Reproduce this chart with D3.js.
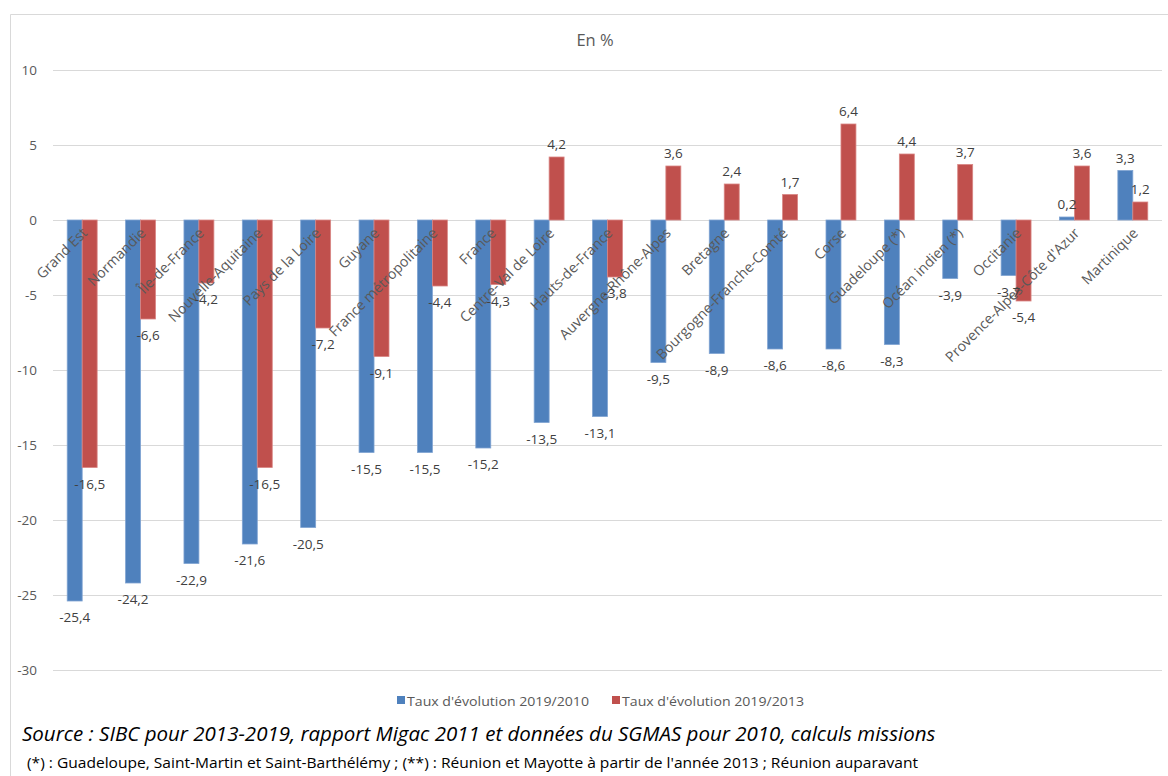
<!DOCTYPE html>
<html>
<head>
<meta charset="utf-8">
<script src="https://cdn.jsdelivr.net/npm/d3@7"></script>
<style>
  html, body { margin: 0; padding: 0; background: #fff; }
  svg { display: block; font-family: "Open Sans", "Noto Sans", sans-serif; }
</style>
</head>
<body>
<svg id="chart" width="1168" height="776"></svg>
<script>
const categories = [
  "Grand Est", "Normandie", "Île-de-France", "Nouvelle-Aquitaine", "Pays de la Loire",
  "Guyane", "France métropolitaine", "France", "Centre-Val de Loire", "Hauts-de-France",
  "Auvergne-Rhône-Alpes", "Bretagne", "Bourgogne-Franche-Comté", "Corse", "Guadeloupe (*)",
  "Océan indien (*)", "Occitanie", "Provence-Alpes-Côte d'Azur", "Martinique"
];
const taux2010 = [-25.4, -24.2, -22.9, -21.6, -20.5, -15.5, -15.5, -15.2, -13.5, -13.1,
  -9.5, -8.9, -8.6, -8.6, -8.3, -3.9, -3.7, 0.2, 3.3];
const taux2013 = [-16.5, -6.6, -4.2, -16.5, -7.2, -9.1, -4.4, -4.3, 4.2, -3.8,
  3.6, 2.4, 1.7, 6.4, 4.4, 3.7, -5.4, 3.6, 1.2];
const seriesNames = ["Taux d'évolution 2019/2010", "Taux d'évolution 2019/2013"];
const yTicks = [10, 5, 0, -5, -10, -15, -20, -25, -30];

const colors = ["#4F81BD", "#C0504D"];
const strokeColors = ["#7FA3D2", "#D98684"];
const series = [taux2010, taux2013];

const svg = d3.select("#chart");
const plot = { left: 53, right: 1162, top: 70, bottom: 670 };

// outer frame (left and top edges of the chart area)
svg.append("path")
  .attr("d", "M10.5,776 V14.5 H1168")
  .attr("fill", "none").attr("stroke", "#D9D9D9").attr("stroke-width", 1);

const x = d3.scaleBand().domain(categories).range([plot.left, plot.right]).paddingInner(0).paddingOuter(0);
const xs = d3.scaleBand().domain([0, 1]).range([0, x.bandwidth()]).paddingInner(0).paddingOuter(0.95);
const y = d3.scaleLinear().domain([-30, 10]).range([plot.bottom, plot.top]);

// gridlines
svg.append("g").selectAll("line").data(yTicks).join("line")
  .attr("x1", plot.left).attr("x2", plot.right)
  .attr("y1", d => Math.round(y(d)) + 0.5).attr("y2", d => Math.round(y(d)) + 0.5)
  .attr("stroke", "#D9D9D9").attr("stroke-width", 1.2);

// y axis labels
svg.append("g").selectAll("text").data(yTicks).join("text")
  .attr("x", 37).attr("y", d => y(d) + 4.5)
  .attr("text-anchor", "end").attr("font-size", 13.5).attr("fill", "#595959")
  .text(d => d3.format("d")(d).replace("−", "-"));

// title
svg.append("text").attr("x", 595).attr("y", 46).attr("text-anchor", "middle")
  .attr("font-size", 16.5).attr("fill", "#595959").text("En %");

// bars
series.forEach((vals, si) => {
  svg.append("g").selectAll("rect").data(vals).join("rect")
    .attr("x", (d, i) => x(categories[i]) + xs(si))
    .attr("width", xs.bandwidth())
    .attr("y", d => y(Math.max(0, d)))
    .attr("height", d => Math.abs(y(d) - y(0)))
    .attr("fill", colors[si])
    .attr("stroke", strokeColors[si]).attr("stroke-width", 0.8);
});

// category labels, rotated along the zero axis
svg.append("g").selectAll("text").data(categories).join("text")
  .attr("transform", d => `translate(${x(d) + x.bandwidth() / 2 + 6},${y(0) + 14}) rotate(-45)`)
  .attr("text-anchor", "end").attr("font-size", 14.2).attr("fill", "#595959")
  .text(d => d);

// value labels
const fmt = v => d3.format(".1f")(v).replace(".", ",").replace("−", "-");
series.forEach((vals, si) => {
  svg.append("g").selectAll("text").data(vals).join("text")
    .attr("x", (d, i) => x(categories[i]) + xs(si) + xs.bandwidth() / 2)
    .attr("y", d => d >= 0 ? y(d) - 8 : y(d) + 21)
    .attr("text-anchor", "middle").attr("font-size", 13.5).attr("fill", "#404040")
    .text(d => fmt(d));
});

// legend
const legend = svg.append("g").attr("font-size", 13.5).attr("fill", "#595959");
const legendX = [397, 612];
seriesNames.forEach((name, i) => {
  legend.append("rect").attr("x", legendX[i]).attr("y", 696).attr("width", 8).attr("height", 8)
    .attr("fill", colors[i]);
  legend.append("text").attr("x", legendX[i] + 10).attr("y", 705.5)
    .attr("textLength", 182).attr("lengthAdjust", "spacingAndGlyphs").text(name);
});

// source and footnote
svg.append("text").attr("x", 22).attr("y", 741)
  .attr("font-size", 20.5).attr("font-style", "italic").attr("fill", "#000")
  .text("Source : SIBC pour 2013-2019, rapport Migac 2011 et données du SGMAS pour 2010, calculs missions");
svg.append("text").attr("x", 27).attr("y", 768)
  .attr("font-size", 14.5).attr("fill", "#000")
  .attr("textLength", 891).attr("lengthAdjust", "spacingAndGlyphs")
  .text("(*) : Guadeloupe, Saint-Martin et Saint-Barthélémy ; (**) : Réunion et Mayotte à partir de l'année 2013 ; Réunion auparavant");
</script>
</body>
</html>
